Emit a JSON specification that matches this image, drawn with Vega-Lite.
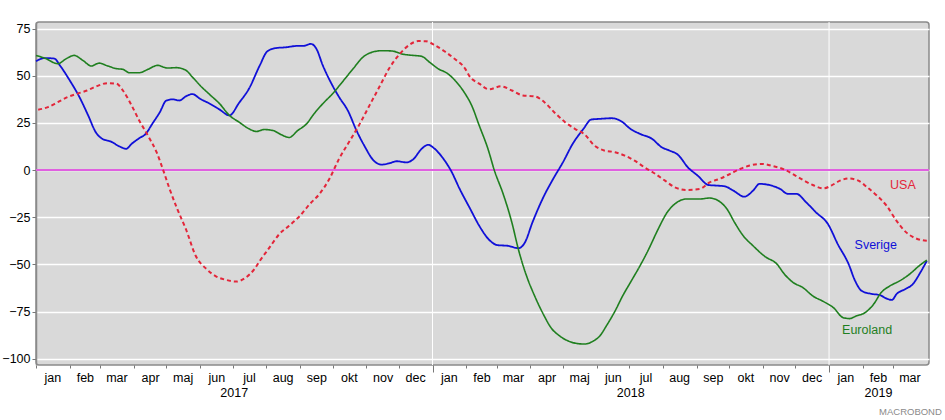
{
"$schema": "https://vega.github.io/schema/vega-lite/v6.json",
"width": 893, "height": 343,
"autosize": {"type": "none"},
"padding": {"left": 36, "top": 22, "right": 16, "bottom": 55},
"background": "white",
"title": {"text": "MACROBOND", "orient": "bottom", "anchor": "end", "fontSize": 9.5, "fontWeight": "normal", "color": "#8a8a8a", "font": "Liberation Sans", "offset": 8, "dx": 11},
"config": {
  "view": {"fill": "#d9d9d9", "stroke": "#8a8a8a", "strokeWidth": 1.5, "cornerRadius": 3},
  "font": "Liberation Sans",
  "axis": {"labelFont": "Liberation Sans", "labelFontSize": 12.5, "labelColor": "#000000", "title": null}
},
"datasets": {
  "lines": [
    {"date":"2017-01-01","series":"Sverige","value":57.7},
    {"date":"2017-01-09","series":"Sverige","value":59.4},
    {"date":"2017-01-18","series":"Sverige","value":59.1},
    {"date":"2017-01-23","series":"Sverige","value":55.5},
    {"date":"2017-02-01","series":"Sverige","value":47.6},
    {"date":"2017-02-10","series":"Sverige","value":38.7},
    {"date":"2017-02-18","series":"Sverige","value":29.0},
    {"date":"2017-02-25","series":"Sverige","value":20.1},
    {"date":"2017-03-03","series":"Sverige","value":16.6},
    {"date":"2017-03-11","series":"Sverige","value":15.1},
    {"date":"2017-03-19","series":"Sverige","value":12.5},
    {"date":"2017-03-25","series":"Sverige","value":11.3},
    {"date":"2017-03-30","series":"Sverige","value":13.9},
    {"date":"2017-04-06","series":"Sverige","value":16.9},
    {"date":"2017-04-12","series":"Sverige","value":19.2},
    {"date":"2017-04-18","series":"Sverige","value":24.5},
    {"date":"2017-04-25","series":"Sverige","value":30.7},
    {"date":"2017-05-01","series":"Sverige","value":36.9},
    {"date":"2017-05-07","series":"Sverige","value":37.5},
    {"date":"2017-05-13","series":"Sverige","value":36.9},
    {"date":"2017-05-19","series":"Sverige","value":39.1},
    {"date":"2017-05-25","series":"Sverige","value":40.3},
    {"date":"2017-06-01","series":"Sverige","value":37.8},
    {"date":"2017-06-10","series":"Sverige","value":35.2},
    {"date":"2017-06-19","series":"Sverige","value":32.1},
    {"date":"2017-06-28","series":"Sverige","value":29.0},
    {"date":"2017-07-07","series":"Sverige","value":35.7},
    {"date":"2017-07-16","series":"Sverige","value":43.1},
    {"date":"2017-07-26","series":"Sverige","value":55.5},
    {"date":"2017-08-02","series":"Sverige","value":63.0},
    {"date":"2017-08-10","series":"Sverige","value":64.7},
    {"date":"2017-08-19","series":"Sverige","value":65.1},
    {"date":"2017-08-29","series":"Sverige","value":65.8},
    {"date":"2017-09-04","series":"Sverige","value":65.8},
    {"date":"2017-09-11","series":"Sverige","value":66.9},
    {"date":"2017-09-16","series":"Sverige","value":64.4},
    {"date":"2017-09-22","series":"Sverige","value":55.5},
    {"date":"2017-09-30","series":"Sverige","value":45.8},
    {"date":"2017-10-07","series":"Sverige","value":38.7},
    {"date":"2017-10-15","series":"Sverige","value":31.6},
    {"date":"2017-10-23","series":"Sverige","value":21.0},
    {"date":"2017-10-31","series":"Sverige","value":12.1},
    {"date":"2017-11-07","series":"Sverige","value":5.6},
    {"date":"2017-11-15","series":"Sverige","value":2.9},
    {"date":"2017-11-22","series":"Sverige","value":3.6},
    {"date":"2017-11-29","series":"Sverige","value":4.7},
    {"date":"2017-12-08","series":"Sverige","value":4.1},
    {"date":"2017-12-14","series":"Sverige","value":5.6},
    {"date":"2017-12-22","series":"Sverige","value":11.3},
    {"date":"2017-12-28","series":"Sverige","value":13.4},
    {"date":"2018-01-03","series":"Sverige","value":11.3},
    {"date":"2018-01-11","series":"Sverige","value":6.0},
    {"date":"2018-01-18","series":"Sverige","value":-0.3},
    {"date":"2018-01-26","series":"Sverige","value":-10.0},
    {"date":"2018-02-04","series":"Sverige","value":-19.8},
    {"date":"2018-02-13","series":"Sverige","value":-29.5},
    {"date":"2018-02-22","series":"Sverige","value":-36.9},
    {"date":"2018-03-02","series":"Sverige","value":-39.8},
    {"date":"2018-03-11","series":"Sverige","value":-40.1},
    {"date":"2018-03-21","series":"Sverige","value":-41.4},
    {"date":"2018-03-27","series":"Sverige","value":-38.4},
    {"date":"2018-04-03","series":"Sverige","value":-27.7},
    {"date":"2018-04-13","series":"Sverige","value":-14.4},
    {"date":"2018-04-22","series":"Sverige","value":-4.7},
    {"date":"2018-05-01","series":"Sverige","value":4.1},
    {"date":"2018-05-10","series":"Sverige","value":13.9},
    {"date":"2018-05-20","series":"Sverige","value":21.9},
    {"date":"2018-05-27","series":"Sverige","value":26.8},
    {"date":"2018-06-05","series":"Sverige","value":27.2},
    {"date":"2018-06-15","series":"Sverige","value":27.5},
    {"date":"2018-06-24","series":"Sverige","value":25.8},
    {"date":"2018-07-02","series":"Sverige","value":21.9},
    {"date":"2018-07-11","series":"Sverige","value":19.2},
    {"date":"2018-07-22","series":"Sverige","value":16.6},
    {"date":"2018-07-31","series":"Sverige","value":12.1},
    {"date":"2018-08-07","series":"Sverige","value":10.4},
    {"date":"2018-08-15","series":"Sverige","value":8.1},
    {"date":"2018-08-24","series":"Sverige","value":1.5},
    {"date":"2018-09-02","series":"Sverige","value":-2.9},
    {"date":"2018-09-12","series":"Sverige","value":-7.9},
    {"date":"2018-09-19","series":"Sverige","value":-8.2},
    {"date":"2018-09-27","series":"Sverige","value":-8.6},
    {"date":"2018-10-05","series":"Sverige","value":-10.9},
    {"date":"2018-10-15","series":"Sverige","value":-14.1},
    {"date":"2018-10-23","series":"Sverige","value":-10.9},
    {"date":"2018-10-29","series":"Sverige","value":-7.3},
    {"date":"2018-11-09","series":"Sverige","value":-8.2},
    {"date":"2018-11-17","series":"Sverige","value":-10.0},
    {"date":"2018-11-24","series":"Sverige","value":-12.6},
    {"date":"2018-12-02","series":"Sverige","value":-12.6},
    {"date":"2018-12-11","series":"Sverige","value":-17.1},
    {"date":"2018-12-20","series":"Sverige","value":-22.4},
    {"date":"2018-12-31","series":"Sverige","value":-28.6},
    {"date":"2019-01-09","series":"Sverige","value":-39.2},
    {"date":"2019-01-19","series":"Sverige","value":-49.8},
    {"date":"2019-01-25","series":"Sverige","value":-58.7},
    {"date":"2019-01-31","series":"Sverige","value":-64.0},
    {"date":"2019-02-08","series":"Sverige","value":-65.5},
    {"date":"2019-02-17","series":"Sverige","value":-66.3},
    {"date":"2019-02-23","series":"Sverige","value":-68.1},
    {"date":"2019-02-28","series":"Sverige","value":-68.8},
    {"date":"2019-03-04","series":"Sverige","value":-65.8},
    {"date":"2019-03-12","series":"Sverige","value":-63.1},
    {"date":"2019-03-19","series":"Sverige","value":-60.5},
    {"date":"2019-03-26","series":"Sverige","value":-54.3},
    {"date":"2019-04-01","series":"Sverige","value":-48.1},

    {"date":"2017-01-01","series":"Euroland","value":60.8},
    {"date":"2017-01-10","series":"Euroland","value":59.1},
    {"date":"2017-01-21","series":"Euroland","value":56.4},
    {"date":"2017-01-29","series":"Euroland","value":59.1},
    {"date":"2017-02-05","series":"Euroland","value":60.8},
    {"date":"2017-02-13","series":"Euroland","value":58.2},
    {"date":"2017-02-21","series":"Euroland","value":55.2},
    {"date":"2017-02-28","series":"Euroland","value":56.7},
    {"date":"2017-03-08","series":"Euroland","value":55.2},
    {"date":"2017-03-16","series":"Euroland","value":53.8},
    {"date":"2017-03-22","series":"Euroland","value":53.4},
    {"date":"2017-03-28","series":"Euroland","value":51.6},
    {"date":"2017-04-06","series":"Euroland","value":51.6},
    {"date":"2017-04-14","series":"Euroland","value":53.4},
    {"date":"2017-04-23","series":"Euroland","value":55.5},
    {"date":"2017-05-02","series":"Euroland","value":54.1},
    {"date":"2017-05-10","series":"Euroland","value":54.3},
    {"date":"2017-05-19","series":"Euroland","value":52.9},
    {"date":"2017-05-25","series":"Euroland","value":49.3},
    {"date":"2017-06-01","series":"Euroland","value":44.9},
    {"date":"2017-06-10","series":"Euroland","value":40.0},
    {"date":"2017-06-19","series":"Euroland","value":35.2},
    {"date":"2017-06-28","series":"Euroland","value":29.0},
    {"date":"2017-07-07","series":"Euroland","value":25.4},
    {"date":"2017-07-16","series":"Euroland","value":21.9},
    {"date":"2017-07-23","series":"Euroland","value":20.5},
    {"date":"2017-07-30","series":"Euroland","value":21.5},
    {"date":"2017-08-07","series":"Euroland","value":21.0},
    {"date":"2017-08-15","series":"Euroland","value":18.7},
    {"date":"2017-08-22","series":"Euroland","value":17.3},
    {"date":"2017-08-30","series":"Euroland","value":21.0},
    {"date":"2017-09-07","series":"Euroland","value":24.5},
    {"date":"2017-09-14","series":"Euroland","value":29.9},
    {"date":"2017-09-22","series":"Euroland","value":35.2},
    {"date":"2017-10-01","series":"Euroland","value":40.5},
    {"date":"2017-10-10","series":"Euroland","value":46.7},
    {"date":"2017-10-20","series":"Euroland","value":53.8},
    {"date":"2017-10-29","series":"Euroland","value":59.9},
    {"date":"2017-11-07","series":"Euroland","value":62.6},
    {"date":"2017-11-16","series":"Euroland","value":63.3},
    {"date":"2017-11-25","series":"Euroland","value":63.1},
    {"date":"2017-12-05","series":"Euroland","value":61.4},
    {"date":"2017-12-14","series":"Euroland","value":60.8},
    {"date":"2017-12-22","series":"Euroland","value":60.3},
    {"date":"2017-12-29","series":"Euroland","value":57.3},
    {"date":"2018-01-06","series":"Euroland","value":53.8},
    {"date":"2018-01-15","series":"Euroland","value":51.1},
    {"date":"2018-01-23","series":"Euroland","value":46.7},
    {"date":"2018-01-31","series":"Euroland","value":40.5},
    {"date":"2018-02-06","series":"Euroland","value":34.3},
    {"date":"2018-02-13","series":"Euroland","value":23.6},
    {"date":"2018-02-21","series":"Euroland","value":11.3},
    {"date":"2018-02-27","series":"Euroland","value":-0.3},
    {"date":"2018-03-07","series":"Euroland","value":-12.6},
    {"date":"2018-03-15","series":"Euroland","value":-27.7},
    {"date":"2018-03-21","series":"Euroland","value":-41.9},
    {"date":"2018-03-28","series":"Euroland","value":-55.2},
    {"date":"2018-04-05","series":"Euroland","value":-66.7},
    {"date":"2018-04-13","series":"Euroland","value":-76.4},
    {"date":"2018-04-20","series":"Euroland","value":-83.5},
    {"date":"2018-04-28","series":"Euroland","value":-87.9},
    {"date":"2018-05-06","series":"Euroland","value":-90.6},
    {"date":"2018-05-13","series":"Euroland","value":-91.8},
    {"date":"2018-05-21","series":"Euroland","value":-92.2},
    {"date":"2018-05-29","series":"Euroland","value":-90.6},
    {"date":"2018-06-04","series":"Euroland","value":-87.9},
    {"date":"2018-06-10","series":"Euroland","value":-82.6},
    {"date":"2018-06-18","series":"Euroland","value":-74.7},
    {"date":"2018-06-25","series":"Euroland","value":-66.7},
    {"date":"2018-07-03","series":"Euroland","value":-58.7},
    {"date":"2018-07-11","series":"Euroland","value":-50.7},
    {"date":"2018-07-19","series":"Euroland","value":-41.9},
    {"date":"2018-07-27","series":"Euroland","value":-32.1},
    {"date":"2018-08-05","series":"Euroland","value":-22.4},
    {"date":"2018-08-14","series":"Euroland","value":-17.1},
    {"date":"2018-08-23","series":"Euroland","value":-15.3},
    {"date":"2018-09-04","series":"Euroland","value":-15.3},
    {"date":"2018-09-13","series":"Euroland","value":-14.8},
    {"date":"2018-09-21","series":"Euroland","value":-16.2},
    {"date":"2018-09-29","series":"Euroland","value":-20.6},
    {"date":"2018-10-06","series":"Euroland","value":-27.7},
    {"date":"2018-10-14","series":"Euroland","value":-34.8},
    {"date":"2018-10-23","series":"Euroland","value":-40.1},
    {"date":"2018-11-03","series":"Euroland","value":-45.8},
    {"date":"2018-11-14","series":"Euroland","value":-49.8},
    {"date":"2018-11-21","series":"Euroland","value":-55.2},
    {"date":"2018-11-29","series":"Euroland","value":-59.6},
    {"date":"2018-12-08","series":"Euroland","value":-62.3},
    {"date":"2018-12-17","series":"Euroland","value":-66.7},
    {"date":"2018-12-27","series":"Euroland","value":-69.7},
    {"date":"2019-01-05","series":"Euroland","value":-72.9},
    {"date":"2019-01-14","series":"Euroland","value":-78.2},
    {"date":"2019-01-20","series":"Euroland","value":-78.7},
    {"date":"2019-01-26","series":"Euroland","value":-77.3},
    {"date":"2019-02-03","series":"Euroland","value":-75.6},
    {"date":"2019-02-11","series":"Euroland","value":-71.1},
    {"date":"2019-02-18","series":"Euroland","value":-64.9},
    {"date":"2019-02-26","series":"Euroland","value":-61.4},
    {"date":"2019-03-07","series":"Euroland","value":-58.7},
    {"date":"2019-03-16","series":"Euroland","value":-55.2},
    {"date":"2019-03-25","series":"Euroland","value":-50.7},
    {"date":"2019-04-01","series":"Euroland","value":-47.7},

    {"date":"2017-01-03","series":"USA","value":32.0},
    {"date":"2017-01-12","series":"USA","value":33.4},
    {"date":"2017-01-21","series":"USA","value":36.0},
    {"date":"2017-01-30","series":"USA","value":38.7},
    {"date":"2017-02-08","series":"USA","value":40.5},
    {"date":"2017-02-17","series":"USA","value":42.2},
    {"date":"2017-02-26","series":"USA","value":44.5},
    {"date":"2017-03-08","series":"USA","value":46.1},
    {"date":"2017-03-16","series":"USA","value":45.8},
    {"date":"2017-03-22","series":"USA","value":42.2},
    {"date":"2017-03-30","series":"USA","value":34.3},
    {"date":"2017-04-06","series":"USA","value":26.3},
    {"date":"2017-04-14","series":"USA","value":18.3},
    {"date":"2017-04-22","series":"USA","value":9.5},
    {"date":"2017-04-28","series":"USA","value":0.1},
    {"date":"2017-05-04","series":"USA","value":-10.0},
    {"date":"2017-05-11","series":"USA","value":-20.6},
    {"date":"2017-05-19","series":"USA","value":-31.3},
    {"date":"2017-05-28","series":"USA","value":-45.4},
    {"date":"2017-06-07","series":"USA","value":-52.5},
    {"date":"2017-06-16","series":"USA","value":-56.4},
    {"date":"2017-06-25","series":"USA","value":-58.2},
    {"date":"2017-07-04","series":"USA","value":-59.1},
    {"date":"2017-07-13","series":"USA","value":-57.0},
    {"date":"2017-07-21","series":"USA","value":-52.5},
    {"date":"2017-07-26","series":"USA","value":-48.1},
    {"date":"2017-08-04","series":"USA","value":-41.0},
    {"date":"2017-08-13","series":"USA","value":-33.9},
    {"date":"2017-08-22","series":"USA","value":-29.5},
    {"date":"2017-09-01","series":"USA","value":-24.2},
    {"date":"2017-09-10","series":"USA","value":-18.0},
    {"date":"2017-09-19","series":"USA","value":-12.6},
    {"date":"2017-09-28","series":"USA","value":-4.7},
    {"date":"2017-10-07","series":"USA","value":6.0},
    {"date":"2017-10-17","series":"USA","value":15.7},
    {"date":"2017-10-26","series":"USA","value":24.5},
    {"date":"2017-11-04","series":"USA","value":34.3},
    {"date":"2017-11-13","series":"USA","value":44.0},
    {"date":"2017-11-22","series":"USA","value":53.8},
    {"date":"2017-12-02","series":"USA","value":61.7},
    {"date":"2017-12-11","series":"USA","value":66.5},
    {"date":"2017-12-19","series":"USA","value":68.4},
    {"date":"2017-12-26","series":"USA","value":68.3},
    {"date":"2018-01-03","series":"USA","value":66.2},
    {"date":"2018-01-12","series":"USA","value":63.0},
    {"date":"2018-01-21","series":"USA","value":59.1},
    {"date":"2018-01-31","series":"USA","value":53.8},
    {"date":"2018-02-04","series":"USA","value":49.8},
    {"date":"2018-02-13","series":"USA","value":45.8},
    {"date":"2018-02-22","series":"USA","value":42.8},
    {"date":"2018-03-05","series":"USA","value":44.4},
    {"date":"2018-03-15","series":"USA","value":42.2},
    {"date":"2018-03-25","series":"USA","value":39.6},
    {"date":"2018-04-05","series":"USA","value":39.1},
    {"date":"2018-04-14","series":"USA","value":36.0},
    {"date":"2018-04-23","series":"USA","value":30.7},
    {"date":"2018-05-03","series":"USA","value":25.4},
    {"date":"2018-05-12","series":"USA","value":21.9},
    {"date":"2018-05-21","series":"USA","value":18.9},
    {"date":"2018-05-30","series":"USA","value":13.0},
    {"date":"2018-06-08","series":"USA","value":10.4},
    {"date":"2018-06-18","series":"USA","value":9.5},
    {"date":"2018-06-27","series":"USA","value":7.7},
    {"date":"2018-07-06","series":"USA","value":5.0},
    {"date":"2018-07-15","series":"USA","value":1.5},
    {"date":"2018-07-25","series":"USA","value":-2.0},
    {"date":"2018-08-03","series":"USA","value":-5.6},
    {"date":"2018-08-12","series":"USA","value":-9.1},
    {"date":"2018-08-23","series":"USA","value":-10.5},
    {"date":"2018-09-04","series":"USA","value":-10.0},
    {"date":"2018-09-13","series":"USA","value":-6.5},
    {"date":"2018-09-22","series":"USA","value":-4.7},
    {"date":"2018-10-02","series":"USA","value":-2.0},
    {"date":"2018-10-11","series":"USA","value":0.6},
    {"date":"2018-10-20","series":"USA","value":2.4},
    {"date":"2018-10-31","series":"USA","value":3.3},
    {"date":"2018-11-11","series":"USA","value":2.0},
    {"date":"2018-11-21","series":"USA","value":0.3},
    {"date":"2018-12-01","series":"USA","value":-2.9},
    {"date":"2018-12-10","series":"USA","value":-5.9},
    {"date":"2018-12-17","series":"USA","value":-7.9},
    {"date":"2018-12-27","series":"USA","value":-9.7},
    {"date":"2019-01-03","series":"USA","value":-8.2},
    {"date":"2019-01-11","series":"USA","value":-5.6},
    {"date":"2019-01-19","series":"USA","value":-4.4},
    {"date":"2019-01-28","series":"USA","value":-5.6},
    {"date":"2019-02-05","series":"USA","value":-9.1},
    {"date":"2019-02-14","series":"USA","value":-13.5},
    {"date":"2019-02-23","series":"USA","value":-18.9},
    {"date":"2019-03-04","series":"USA","value":-26.8},
    {"date":"2019-03-13","series":"USA","value":-33.0},
    {"date":"2019-03-22","series":"USA","value":-36.2},
    {"date":"2019-04-01","series":"USA","value":-37.5}
  ],
  "labels": [
    {"date":"2019-03-10","value":-8.0,"series":"USA"},
    {"date":"2019-02-13","value":-39.7,"series":"Sverige"},
    {"date":"2019-02-05","value":-84.8,"series":"Euroland"}
  ],
  "years": [{"date":"2018-01-01"},{"date":"2019-01-01"}],
  "zero": [{"value":0}]
},
"resolve": {"axis": {"x": "independent"}},
"layer": [
  {
    "data": {"name": "years"},
    "mark": {"type": "rule", "color": "#ffffff", "strokeWidth": 1},
    "encoding": {
      "x": {"field": "date", "type": "temporal",
        "scale": {"type": "utc", "domain": [{"year":2017,"month":1,"date":1,"utc":true},{"year":2019,"month":4,"date":3,"utc":true}]},
        "axis": {"orient": "bottom", "labels": false, "domain": false, "grid": false, "ticks": true, "tickColor": "#777777",
          "tickSize": {"condition": {"test": "utcmonth(datum.value) === 0 && utcyear(datum.value) > 2017", "value": 7}, "value": 3},
          "values": [
            {"year":2017,"month":1,"date":1,"utc":true},{"year":2017,"month":2,"date":1,"utc":true},{"year":2017,"month":3,"date":1,"utc":true},{"year":2017,"month":4,"date":1,"utc":true},{"year":2017,"month":5,"date":1,"utc":true},{"year":2017,"month":6,"date":1,"utc":true},{"year":2017,"month":7,"date":1,"utc":true},{"year":2017,"month":8,"date":1,"utc":true},{"year":2017,"month":9,"date":1,"utc":true},{"year":2017,"month":10,"date":1,"utc":true},{"year":2017,"month":11,"date":1,"utc":true},{"year":2017,"month":12,"date":1,"utc":true},
            {"year":2018,"month":1,"date":1,"utc":true},{"year":2018,"month":2,"date":1,"utc":true},{"year":2018,"month":3,"date":1,"utc":true},{"year":2018,"month":4,"date":1,"utc":true},{"year":2018,"month":5,"date":1,"utc":true},{"year":2018,"month":6,"date":1,"utc":true},{"year":2018,"month":7,"date":1,"utc":true},{"year":2018,"month":8,"date":1,"utc":true},{"year":2018,"month":9,"date":1,"utc":true},{"year":2018,"month":10,"date":1,"utc":true},{"year":2018,"month":11,"date":1,"utc":true},{"year":2018,"month":12,"date":1,"utc":true},
            {"year":2019,"month":1,"date":1,"utc":true},{"year":2019,"month":2,"date":1,"utc":true},{"year":2019,"month":3,"date":1,"utc":true}
          ]}
      }
    }
  },
  {
    "data": {"name": "zero"},
    "mark": {"type": "rule", "color": "#e060e0", "strokeWidth": 2},
    "encoding": {
      "y": {"field": "value", "type": "quantitative",
        "scale": {"domain": [-103.3, 78.5], "nice": false, "zero": false},
        "axis": {"values": [-100,-75,-50,-25,0,25,50,75], "grid": true, "gridColor": "#ffffff", "gridWidth": 1.5, "domain": true, "domainColor": "#8a8a8a", "domainWidth": 1.5, "tickColor": "#777777", "tickSize": 4, "labelPadding": 2}
      }
    }
  },
  {
    "data": {"name": "lines"},
    "mark": {"type": "line", "interpolate": "monotone"},
    "encoding": {
      "x": {"field": "date", "type": "temporal",
        "scale": {"type": "utc", "domain": [{"year":2017,"month":1,"date":1,"utc":true},{"year":2019,"month":4,"date":3,"utc":true}]},
        "axis": {"orient": "bottom", "domain": false, "grid": false, "ticks": false, "labelPadding": 6, "labelFontSize": 12.5,
          "labelExpr": "['jan','feb','mar','apr','maj','jun','jul','aug','sep','okt','nov','dec'][utcmonth(datum.value)]",
          "values": [
            {"year":2017,"month":1,"date":16,"utc":true},{"year":2017,"month":2,"date":15,"utc":true},{"year":2017,"month":3,"date":16,"utc":true},{"year":2017,"month":4,"date":16,"utc":true},{"year":2017,"month":5,"date":16,"utc":true},{"year":2017,"month":6,"date":16,"utc":true},{"year":2017,"month":7,"date":16,"utc":true},{"year":2017,"month":8,"date":16,"utc":true},{"year":2017,"month":9,"date":16,"utc":true},{"year":2017,"month":10,"date":16,"utc":true},{"year":2017,"month":11,"date":16,"utc":true},{"year":2017,"month":12,"date":16,"utc":true},
            {"year":2018,"month":1,"date":16,"utc":true},{"year":2018,"month":2,"date":15,"utc":true},{"year":2018,"month":3,"date":16,"utc":true},{"year":2018,"month":4,"date":16,"utc":true},{"year":2018,"month":5,"date":16,"utc":true},{"year":2018,"month":6,"date":16,"utc":true},{"year":2018,"month":7,"date":16,"utc":true},{"year":2018,"month":8,"date":16,"utc":true},{"year":2018,"month":9,"date":16,"utc":true},{"year":2018,"month":10,"date":16,"utc":true},{"year":2018,"month":11,"date":16,"utc":true},{"year":2018,"month":12,"date":16,"utc":true},
            {"year":2019,"month":1,"date":16,"utc":true},{"year":2019,"month":2,"date":15,"utc":true},{"year":2019,"month":3,"date":16,"utc":true}
          ]}
      },
      "y": {"field": "value", "type": "quantitative",
        "scale": {"domain": [-103.3, 78.5], "nice": false, "zero": false},
        "axis": {"values": [-100,-75,-50,-25,0,25,50,75], "grid": true, "gridColor": "#ffffff", "gridWidth": 1.5, "domain": true, "domainColor": "#8a8a8a", "domainWidth": 1.5, "tickColor": "#777777", "tickSize": 4, "labelPadding": 2}
      },
      "color": {"field": "series", "type": "nominal", "scale": {"domain": ["USA","Sverige","Euroland"], "range": ["#e3263a","#1010d8","#1f7f1f"]}, "legend": null},
      "strokeDash": {"field": "series", "type": "nominal", "scale": {"domain": ["USA","Sverige","Euroland"], "range": [[4,3],[1,0],[1,0]]}, "legend": null},
      "strokeWidth": {"field": "series", "type": "nominal", "scale": {"domain": ["USA","Sverige","Euroland"], "range": [2,1.6,1.6]}, "legend": null}
    }
  },
  {
    "data": {"name": "labels"},
    "mark": {"type": "text", "fontSize": 12.5, "font": "Liberation Sans"},
    "encoding": {
      "x": {"field": "date", "type": "temporal",
        "scale": {"type": "utc", "domain": [{"year":2017,"month":1,"date":1,"utc":true},{"year":2019,"month":4,"date":3,"utc":true}]},
        "axis": {"orient": "bottom", "domain": false, "grid": false, "ticks": false, "labelPadding": 21, "labelFontSize": 12.5,
          "labelExpr": "utcFormat(datum.value, '%Y')",
          "values": [{"year":2017,"month":7,"date":2,"utc":true},{"year":2018,"month":7,"date":2,"utc":true},{"year":2019,"month":2,"date":15,"utc":true}]}
      },
      "y": {"field": "value", "type": "quantitative",
        "scale": {"domain": [-103.3, 78.5], "nice": false, "zero": false},
        "axis": {"values": [-100,-75,-50,-25,0,25,50,75], "grid": true, "gridColor": "#ffffff", "gridWidth": 1.5, "domain": true, "domainColor": "#8a8a8a", "domainWidth": 1.5, "tickColor": "#777777", "tickSize": 4, "labelPadding": 2}
      },
      "text": {"field": "series"},
      "color": {"field": "series", "type": "nominal", "scale": {"domain": ["USA","Sverige","Euroland"], "range": ["#e3263a","#1010d8","#1f7f1f"]}, "legend": null}
    }
  }
]
}
